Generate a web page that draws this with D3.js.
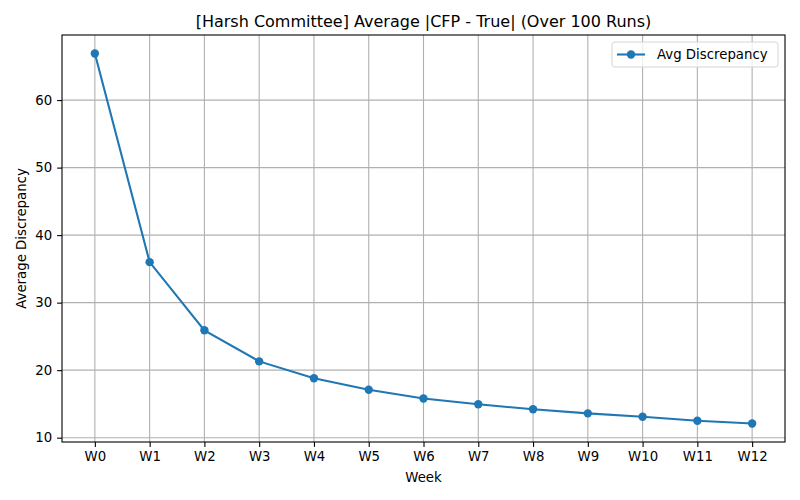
<!DOCTYPE html>
<html>
<head>
<meta charset="utf-8">
<script src="https://cdn.jsdelivr.net/npm/d3@7"></script>
<style>
    body { margin: 0; background: #fff; }
    svg { font-family: "DejaVu Sans", sans-serif; }
</style>
</head>
<body>
<div id="chart"></div>
<script>
const weeks = ["W0", "W1", "W2", "W3", "W4", "W5", "W6", "W7", "W8", "W9", "W10", "W11", "W12"];
const avgDiscrepancy = [66.9, 36.0, 25.9, 21.3, 18.8, 17.1, 15.8, 14.95, 14.2, 13.6, 13.1, 12.5, 12.1];
const yTicks = [10, 20, 30, 40, 50, 60];

const graphWidth = 800, graphHeight = 500;
const margin = {top: 35, right: 15, bottom: 58, left: 62};
const width = graphWidth - margin.left - margin.right;
const height = graphHeight - margin.top - margin.bottom;
const color = "#1f77b4";

const svg = d3.select("#chart").append("svg")
    .attr("width", graphWidth)
    .attr("height", graphHeight);

const g = svg.append("g")
    .attr("transform", "translate(" + margin.left + "," + margin.top + ")");

/*  matplotlib-like 5% margins  */
const idx = weeks.map((d, i) => i);
const xPad = (idx.length - 1) * 0.05;
const xScale = d3.scaleLinear()
    .domain([-xPad, idx.length - 1 + xPad])
    .range([0, width]);

const yMin = d3.min(avgDiscrepancy), yMax = d3.max(avgDiscrepancy);
const yPad = (yMax - yMin) * 0.05;
const yScale = d3.scaleLinear()
    .domain([yMin - yPad, yMax + yPad])
    .range([height, 0]);

/*  grid  */
g.append("g").selectAll("line")
    .data(idx)
    .enter().append("line")
    .attr("x1", d => xScale(d)).attr("x2", d => xScale(d))
    .attr("y1", 0).attr("y2", height)
    .attr("stroke", "#b0b0b0").attr("stroke-width", 1.1);

g.append("g").selectAll("line")
    .data(yTicks)
    .enter().append("line")
    .attr("x1", 0).attr("x2", width)
    .attr("y1", d => yScale(d)).attr("y2", d => yScale(d))
    .attr("stroke", "#b0b0b0").attr("stroke-width", 1.1);

/*  axes  */
const xAxis = g.append("g")
    .attr("transform", "translate(0," + height + ")")
    .call(d3.axisBottom(xScale).tickValues(idx).tickFormat(i => weeks[i])
        .tickSizeInner(4.9).tickSizeOuter(0).tickPadding(4.9));

const yAxis = g.append("g")
    .call(d3.axisLeft(yScale).tickValues(yTicks)
        .tickSizeInner(4.9).tickSizeOuter(0).tickPadding(4.9));

[xAxis, yAxis].forEach(a => {
    a.select(".domain").remove();
    a.selectAll("line").attr("stroke", "#000").attr("stroke-width", 1.1);
    a.selectAll("text").attr("fill", "#000").style("font-size", "13.3px")
        .style("font-family", "'DejaVu Sans', sans-serif");
});

/*  frame  */
g.append("rect")
    .attr("x", 0).attr("y", 0)
    .attr("width", width).attr("height", height)
    .attr("fill", "none").attr("stroke", "#000").attr("stroke-width", 1.1);

/*  line + markers  */
const line = d3.line()
    .x((d, i) => xScale(i))
    .y(d => yScale(d));

g.append("path")
    .datum(avgDiscrepancy)
    .attr("d", line)
    .attr("fill", "none")
    .attr("stroke", color)
    .attr("stroke-width", 2.1);

g.selectAll(".pt")
    .data(avgDiscrepancy)
    .enter().append("circle")
    .attr("class", "pt")
    .attr("cx", (d, i) => xScale(i))
    .attr("cy", d => yScale(d))
    .attr("r", 4.2)
    .attr("fill", color);

/*  labels  */
svg.append("text")
    .attr("x", margin.left + width / 2).attr("y", 27)
    .attr("text-anchor", "middle")
    .style("font-size", "16px")
    .text("[Harsh Committee] Average |CFP - True| (Over 100 Runs)");

svg.append("text")
    .attr("x", margin.left + width / 2).attr("y", 482)
    .attr("text-anchor", "middle")
    .style("font-size", "13.3px")
    .text("Week");

svg.append("text")
    .attr("transform", "translate(26," + (margin.top + height / 2) + ") rotate(-90)")
    .attr("text-anchor", "middle")
    .style("font-size", "13.3px")
    .text("Average Discrepancy");

/*  legend  */
const legend = svg.append("g").attr("transform", "translate(612,42)");
legend.append("rect")
    .attr("width", 166).attr("height", 25).attr("rx", 3)
    .attr("fill", "#fff").attr("fill-opacity", 0.8)
    .attr("stroke", "#d5d5d5");
legend.append("line")
    .attr("x1", 5).attr("x2", 33).attr("y1", 12.5).attr("y2", 12.5)
    .attr("stroke", color).attr("stroke-width", 2.1);
legend.append("circle")
    .attr("cx", 19).attr("cy", 12.5).attr("r", 4.2).attr("fill", color);
legend.append("text")
    .attr("x", 45).attr("y", 17)
    .style("font-size", "13.3px")
    .text("Avg Discrepancy");
</script>
</body>
</html>
